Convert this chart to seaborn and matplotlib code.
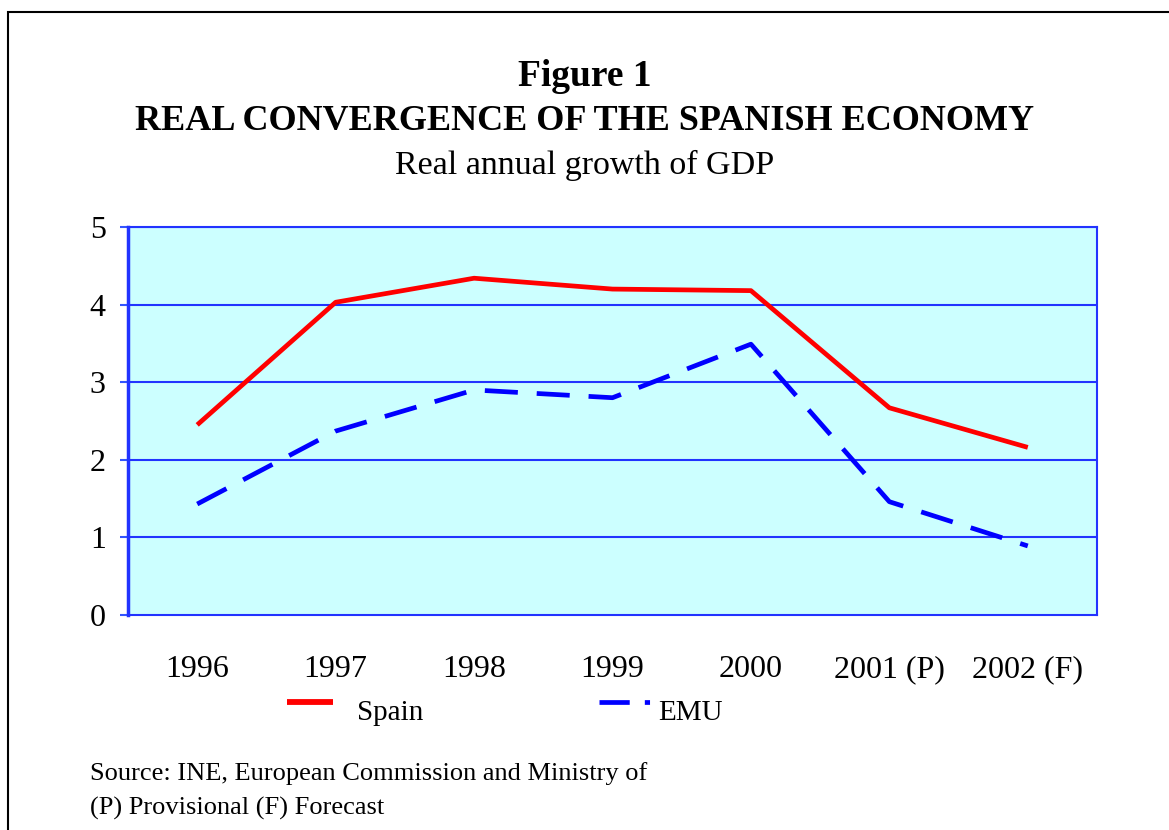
import matplotlib
matplotlib.use("Agg")
import matplotlib.pyplot as plt
import matplotlib.patches as mpatches
from matplotlib.lines import Line2D
from matplotlib.legend_handler import HandlerLine2D
import seaborn as sns
import pandas as pd

years = ["1996", "1997", "1998", "1999", "2000", "2001 (P)", "2002 (F)"]
spain = [2.45, 4.03, 4.34, 4.20, 4.18, 2.67, 2.16]
emu = [1.43, 2.37, 2.90, 2.80, 3.49, 1.46, 0.89]
yticks = [0, 1, 2, 3, 4, 5]

df = pd.DataFrame({
    "year": years * 2,
    "growth": spain + emu,
    "series": ["Spain"] * len(years) + ["EMU"] * len(years),
})
df["pos"] = list(range(len(years))) * 2

sns.set_theme(style="white")
plt.rcParams["font.family"] = ["Liberation Serif", "DejaVu Serif"]
plt.rcParams["text.color"] = "black"
plt.rcParams["xtick.color"] = "black"
plt.rcParams["ytick.color"] = "black"


class RaisedLine(HandlerLine2D):
    def create_artists(self, legend, orig_handle, xdescent, ydescent, width, height,
                       fontsize, trans):
        arts = super().create_artists(legend, orig_handle, xdescent, ydescent, width,
                                      height, fontsize, trans)
        for a in arts:
            a.set_ydata([y + 6.0 for y in a.get_ydata()])
        return arts


fig = plt.figure(figsize=(11.69, 8.30), dpi=100)
fig.patch.set_facecolor("white")
fig.patches.append(mpatches.Rectangle((8 / 1169, -0.05), 1.2, 1 - 12 / 830 + 0.05,
                                      transform=fig.transFigure, fill=False,
                                      edgecolor="black", linewidth=1.5))

ax = fig.add_axes([128 / 1169, 1 - 615 / 830, (1097 - 128) / 1169, (615 - 227) / 830])
ax.set_facecolor("#CCFFFF")

sns.lineplot(data=df, x="pos", y="growth", hue="series", style="series",
             palette={"Spain": "#FF0000", "EMU": "#0000FF"},
             dashes={"Spain": "", "EMU": (7, 4)}, linewidth=3.4, ax=ax, legend=False)
for ln in ax.lines:
    ln.set_solid_capstyle("butt")
    ln.set_dash_capstyle("butt")

ax.set_xlim(-0.5, len(years) - 0.5)
ax.set_ylim(0, 5)
ax.set_yticks(yticks)
ax.set_yticklabels([str(v) for v in yticks])
ax.set_xticks(range(len(years)))
ax.set_xticklabels(years)
ax.set_xticks([i - 0.5 for i in range(len(years) + 1)], minor=True)
ax.tick_params(axis="x", which="major", length=0, pad=29, labelsize=23, labelcolor="black")
ax.tick_params(axis="x", which="minor", length=10, width=1.5, color="#3355FF", direction="out")
ax.tick_params(axis="y", length=6, width=1.5, color="#3355FF", pad=10, labelsize=23,
               direction="out", left=True, labelcolor="black")
ax.set_xlabel("")
ax.set_ylabel("")
ax.grid(False)
for v in yticks[1:]:
    ax.axhline(v, color="#2233FF", linewidth=1.5, zorder=1)
for name, sp in ax.spines.items():
    sp.set_color("#2233FF")
    sp.set_linewidth(1.5)
ax.spines["left"].set_linewidth(2.5)

fig.text(0.5, 1 - 76 / 830, "Figure 1", ha="center", va="center",
         fontsize=27, fontweight="bold")
fig.text(0.5, 1 - 122 / 830, "REAL CONVERGENCE OF THE SPANISH ECONOMY", ha="center",
         va="center", fontsize=26, fontweight="bold")
fig.text(0.5, 1 - 165 / 830, "Real annual growth of GDP", ha="center", va="center",
         fontsize=24.5)

h_spain = Line2D([], [], color="#FF0000", linewidth=4.2, solid_capstyle="butt")
h_emu = Line2D([], [], color="#0000FF", linewidth=3.4, dashes=(6.4, 3.2, 1.1, 3),
               dash_capstyle="butt")
leg1 = fig.legend([h_spain], ["Spain"], loc="center left",
                  bbox_to_anchor=(278 / 1169, 1 - 713 / 830), frameon=False,
                  fontsize=21, handlelength=1.6, handletextpad=0.8, borderaxespad=0,
                  borderpad=0.3, handler_map={Line2D: RaisedLine()})
leg2 = fig.legend([h_emu], ["EMU"], loc="center left",
                  bbox_to_anchor=(590 / 1169, 1 - 713 / 830), frameon=False,
                  fontsize=21, handlelength=1.75, handletextpad=0.3, borderaxespad=0,
                  borderpad=0.3, handler_map={Line2D: RaisedLine()})

fig.text(90 / 1169, 1 - 774 / 830, "Source: INE, European Commission and Ministry of",
         ha="left", va="center", fontsize=19)
fig.text(90 / 1169, 1 - 808 / 830, "(P) Provisional (F) Forecast",
         ha="left", va="center", fontsize=19)

fig.savefig("out.png", dpi=100, facecolor="white")
